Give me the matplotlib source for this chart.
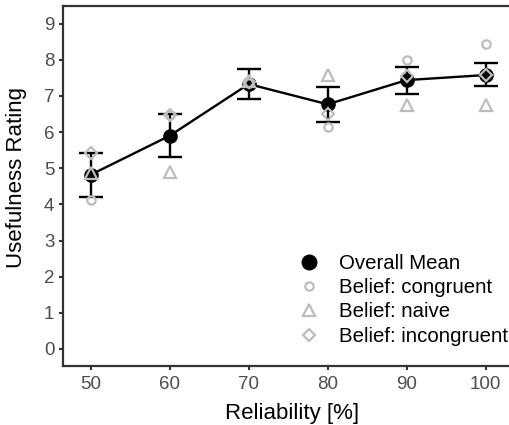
import matplotlib
matplotlib.use("Agg")
import matplotlib.pyplot as plt
from matplotlib.lines import Line2D

plt.rcParams['font.family'] = ['Liberation Sans', 'DejaVu Sans']

reliability = [50, 60, 70, 80, 90, 100]
mean_rating = [4.82, 5.90, 7.33, 6.77, 7.44, 7.58]
err_upper = [5.42, 6.49, 7.74, 7.24, 7.81, 7.90]
err_lower = [4.21, 5.31, 6.91, 6.29, 7.06, 7.27]
congruent = [4.13, 6.47, 7.35, 6.13, 7.99, 8.43]
naive = [4.87, 4.89, 7.41, 7.59, 6.75, 6.75]
incongruent = [5.42, 6.47, 7.39, 6.49, 7.55, 7.58]

grey = '#bdbdbd'
fig = plt.figure(figsize=(5.1, 4.25), dpi=100)
# axes extends a little past the right edge of the figure (as in the reference)
ax = fig.add_axes([0.123, 0.139, 0.9, 0.846])

yerr = [[m - l for m, l in zip(mean_rating, err_lower)],
        [u - m for m, u in zip(mean_rating, err_upper)]]
ax.errorbar(reliability, mean_rating, yerr=yerr, fmt='none', ecolor='black',
            elinewidth=1.7, capsize=8.3, capthick=1.7, zorder=2)
ax.plot(reliability, mean_rating, color='black', lw=1.7, zorder=2)
ax.plot(reliability, mean_rating, 'o', color='black', ms=9.5, zorder=3, ls='none')

ax.plot(reliability, congruent, 'o', mfc='none', mec=grey, mew=1.6, ms=6, ls='none', zorder=4)
ax.plot(reliability, naive, '^', mfc='none', mec=grey, mew=1.6, ms=8, ls='none', zorder=4)
ax.plot(reliability, incongruent, 'D', mfc='none', mec=grey, mew=1.6, ms=6.5, ls='none', zorder=4)

handles = [
    Line2D([], [], marker='o', color='black', ms=10.5, ls='none'),
    Line2D([], [], marker='o', mfc='none', mec=grey, mew=1.6, ms=6, ls='none'),
    Line2D([], [], marker='^', mfc='none', mec=grey, mew=1.6, ms=8, ls='none'),
    Line2D([], [], marker='D', mfc='none', mec=grey, mew=1.6, ms=6.5, ls='none'),
]
labels = ['Overall Mean', 'Belief: congruent', 'Belief: naive', 'Belief: incongruent']
ax.legend(handles, labels, frameon=False, fontsize=14.7, loc='upper left',
          bbox_to_anchor=(0.514, 0.312), borderpad=0, borderaxespad=0,
          handletextpad=1.0, labelspacing=0.26, handlelength=1.0)

ax.set_xlim(46.46, 104.56)
ax.set_ylim(-0.47, 9.48)
ax.set_xticks(reliability)
ax.set_yticks(range(0, 10))
ax.set_xlabel('Reliability [%]', fontsize=16, labelpad=7)
ax.set_ylabel('Usefulness Rating', fontsize=16)
ax.yaxis.set_label_coords(-0.078, 0.523)
ax.tick_params(labelsize=13.5, labelcolor='#4d4d4d', color='#333333', width=1.5, length=3, pad=3)
ax.tick_params(axis='x', pad=4.5)
for s in ax.spines.values():
    s.set_color('#333333')
    s.set_linewidth(1.6)
ax.spines['right'].set_visible(False)

fig.savefig('out.png', dpi=100)
